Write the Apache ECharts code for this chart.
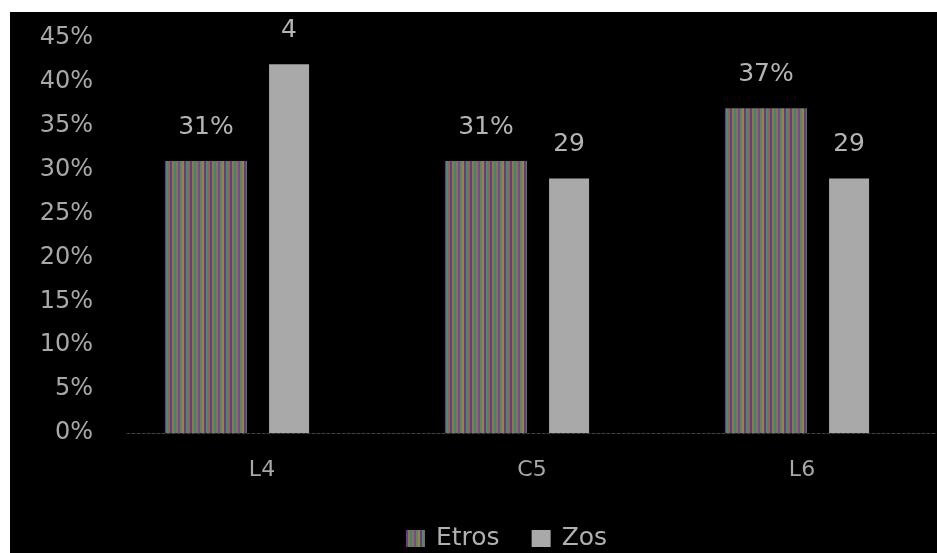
<!DOCTYPE html>
<html>
<head>
<meta charset="utf-8">
<script src="https://cdn.jsdelivr.net/npm/echarts@6/dist/echarts.min.js"></script>
<style>
  html, body { margin: 0; padding: 0; background: #ffffff; width: 937px; height: 553px; overflow: hidden; }
  #chart { position: absolute; left: 10px; top: 12px; width: 927px; height: 541px; background: #000000; }
</style>
</head>
<body>
<div id="chart"></div>
<script>
// Categories and series values (fractions of 1, shown as percent)
const categories = ['L4', 'C5', 'L6'];
const etrosValues = [0.31, 0.31, 0.37];
const zosValues = [0.42, 0.29, 0.29];
const seriesNames = ['Etros', 'Zos'];

// Label box widths for the narrow Zos bars (text is cut to fit)
const zosLabelWidths = [24, 44, 44];

// Striped fill for the Etros bars
function makeStripes() {
  const c = document.createElement('canvas');
  const cols = ['#6a3a8a', '#8a7a4a', '#3a8a6a', '#8a7060', '#7a4a8a', '#5a8a5a', '#9a804a', '#6a3a7a', '#4a8a7a', '#8a6a4a'];
  c.width = cols.length * 2;
  c.height = 4;
  const ctx = c.getContext('2d');
  cols.forEach((col, i) => { ctx.fillStyle = col; ctx.fillRect(i * 2, 0, 2, 4); });
  return c;
}

const pct = v => Math.round(v * 100) + '%';
const labelFont = { fontFamily: 'DejaVu Sans', fontSize: 25, color: '#b4b4b4' };
const gridTop = 26, gridBottom = 120;

const chart = echarts.init(document.getElementById('chart'));
chart.setOption({
  backgroundColor: '#000000',
  animation: false,
  grid: [
    // axes frame
    { left: 117, right: 0, top: gridTop, bottom: gridBottom },
    // bar band layout
    { left: 87, right: -2, top: gridTop, bottom: gridBottom }
  ],
  legend: {
    data: seriesNames,
    icon: 'rect',
    bottom: -3,
    left: 391,
    itemWidth: 19,
    itemHeight: 17,
    itemGap: 32,
    textStyle: { fontFamily: 'DejaVu Sans', fontSize: 25, color: '#b0b0b0', padding: [0, 0, 0, 6] }
  },
  xAxis: [
    {
      type: 'category',
      gridIndex: 0,
      data: categories,
      axisLine: { show: true, lineStyle: { color: '#404040', type: [3, 2], width: 1 } },
      axisTick: { show: false },
      axisLabel: { fontFamily: 'DejaVu Sans', fontSize: 22, color: '#a8a8a8', margin: 26 }
    },
    {
      type: 'category',
      gridIndex: 1,
      data: categories,
      show: false
    }
  ],
  yAxis: [
    {
      type: 'value',
      gridIndex: 0,
      min: 0,
      max: 0.45,
      interval: 0.05,
      axisLine: { show: false },
      axisTick: { show: false },
      splitLine: { show: false },
      axisLabel: {
        formatter: v => pct(v),
        fontFamily: 'DejaVu Sans', fontSize: 24, color: '#a8a8a8', margin: 34
      }
    },
    {
      type: 'value',
      gridIndex: 1,
      min: 0,
      max: 0.45,
      interval: 0.05,
      show: false,
      splitLine: { show: false }
    }
  ],
  series: [
    {
      name: seriesNames[0],
      type: 'bar',
      xAxisIndex: 1,
      yAxisIndex: 1,
      data: etrosValues,
      barWidth: 82,
      barGap: '27%',
      itemStyle: { color: { image: makeStripes(), repeat: 'repeat' } },
      label: Object.assign({ show: true, position: 'top', distance: 21, formatter: p => pct(p.value) }, labelFont)
    },
    {
      name: seriesNames[1],
      type: 'bar',
      xAxisIndex: 1,
      yAxisIndex: 1,
      barWidth: 40,
      data: zosValues.map((v, i) => ({
        value: v,
        label: { width: zosLabelWidths[i] }
      })),
      itemStyle: { color: '#a9a9a9' },
      label: Object.assign({
        show: true, position: 'top', distance: 21, align: 'center',
        overflow: 'truncate', ellipsis: '',
        formatter: p => pct(p.value)
      }, labelFont)
    }
  ]
});
</script>
</body>
</html>
